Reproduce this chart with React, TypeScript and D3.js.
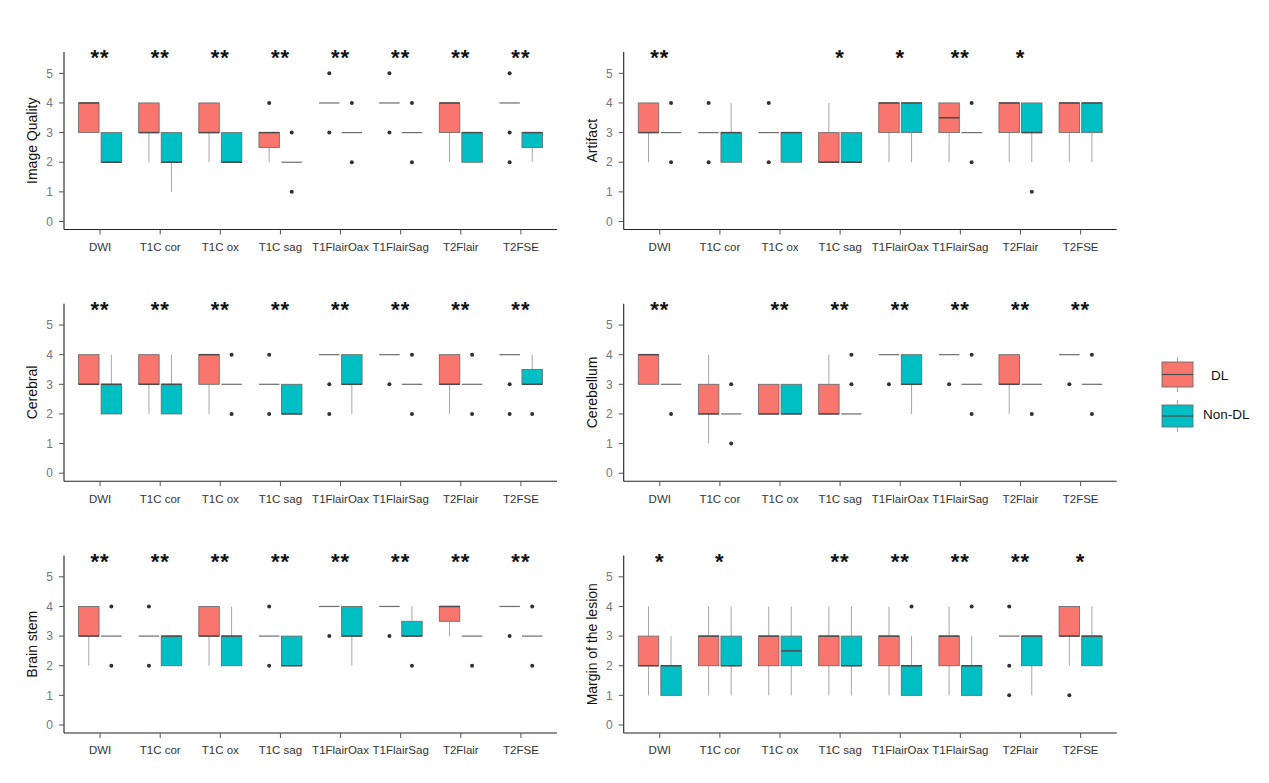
import React from "react";
import * as d3 from "d3";

const categories = ["DWI", "T1C cor", "T1C ox", "T1C sag", "T1FlairOax", "T1FlairSag", "T2Flair", "T2FSE"];
const groups = ["DL", "Non-DL"];
const groupColors = ["#F8766D", "#00BFC4"];
const yTicks = [0, 1, 2, 3, 4, 5];

// box stats: [whiskerLow, q1, median, q3, whiskerHigh]
const iqDL = [[3,3,4,4,4],[2,3,3,4,4],[2,3,3,4,4],[2,2.5,3,3,3],[4,4,4,4,4],[4,4,4,4,4],[2,3,4,4,4],[4,4,4,4,4]];
const iqDLOut = [[],[],[],[4],[5,3],[5,3],[],[5,3,2]];
const iqNon = [[2,2,2,3,3],[1,2,2,3,3],[2,2,2,3,3],[2,2,2,2,2],[3,3,3,3,3],[3,3,3,3,3],[2,2,3,3,3],[2,2.5,3,3,3]];
const iqNonOut = [[],[],[],[3,1],[4,2],[4,2],[],[]];
const iqStars = ["**","**","**","**","**","**","**","**"];

const artDL = [[2,3,3,4,4],[3,3,3,3,3],[3,3,3,3,3],[2,2,2,3,4],[2,3,4,4,4],[2,3,3.5,4,4],[2,3,4,4,4],[2,3,4,4,4]];
const artDLOut = [[],[4,2],[4,2],[],[],[],[],[]];
const artNon = [[3,3,3,3,3],[2,2,3,3,4],[2,2,3,3,3],[2,2,2,3,3],[2,3,4,4,4],[3,3,3,3,3],[2,3,3,4,4],[2,3,4,4,4]];
const artNonOut = [[4,2],[],[],[],[],[4,2],[1],[]];
const artStars = ["**","","","*","*","**","*",""];

const cerDL = [[3,3,3,4,4],[2,3,3,4,4],[2,3,4,4,4],[3,3,3,3,3],[4,4,4,4,4],[4,4,4,4,4],[2,3,3,4,4],[4,4,4,4,4]];
const cerDLOut = [[],[],[],[4,2],[3,2],[3],[],[3,2]];
const cerNon = [[2,2,3,3,4],[2,2,3,3,4],[3,3,3,3,3],[2,2,2,3,3],[2,3,3,4,4],[3,3,3,3,3],[3,3,3,3,3],[3,3,3,3.5,4]];
const cerNonOut = [[],[],[4,2],[],[],[4,2],[4,2],[2]];
const cerStars = ["**","**","**","**","**","**","**","**"];

const cblDL = [[3,3,4,4,4],[1,2,2,3,4],[2,2,2,3,3],[2,2,2,3,4],[4,4,4,4,4],[4,4,4,4,4],[2,3,3,4,4],[4,4,4,4,4]];
const cblDLOut = [[],[],[],[],[3],[3],[],[3]];
const cblNon = [[3,3,3,3,3],[2,2,2,2,2],[2,2,2,3,3],[2,2,2,2,2],[2,3,3,4,4],[3,3,3,3,3],[3,3,3,3,3],[3,3,3,3,3]];
const cblNonOut = [[2],[3,1],[],[4,3],[],[4,2],[2],[4,2]];
const cblStars = ["**","","**","**","**","**","**","**"];

const bsDL = [[2,3,3,4,4],[3,3,3,3,3],[2,3,3,4,4],[3,3,3,3,3],[4,4,4,4,4],[4,4,4,4,4],[3,3.5,4,4,4],[4,4,4,4,4]];
const bsDLOut = [[],[4,2],[],[4,2],[3],[3],[],[3]];
const bsNon = [[3,3,3,3,3],[2,2,3,3,3],[2,2,3,3,4],[2,2,2,3,3],[2,3,3,4,4],[3,3,3,3.5,4],[3,3,3,3,3],[3,3,3,3,3]];
const bsNonOut = [[4,2],[],[],[],[],[2],[2],[4,2]];
const bsStars = ["**","**","**","**","**","**","**","**"];

const mgDL = [[1,2,2,3,4],[1,2,3,3,4],[1,2,3,3,4],[1,2,3,3,4],[1,2,3,3,4],[1,2,3,3,4],[3,3,3,3,3],[2,3,3,4,4]];
const mgDLOut = [[],[],[],[],[],[],[4,2,1],[1]];
const mgNon = [[1,1,2,2,3],[1,2,2,3,4],[1,2,2.5,3,4],[1,2,2,3,4],[1,1,2,2,3],[1,1,2,2,3],[1,2,3,3,3],[2,2,3,3,4]];
const mgNonOut = [[],[],[],[],[4],[4],[],[]];
const mgStars = ["*","*","","**","**","**","**","*"];

const panelTitles = ["Image Quality", "Artifact", "Cerebral", "Cerebellum", "Brain stem", "Margin of the lesion"];
const panels = [
  { dl: iqDL, dlOut: iqDLOut, non: iqNon, nonOut: iqNonOut, stars: iqStars },
  { dl: artDL, dlOut: artDLOut, non: artNon, nonOut: artNonOut, stars: artStars },
  { dl: cerDL, dlOut: cerDLOut, non: cerNon, nonOut: cerNonOut, stars: cerStars },
  { dl: cblDL, dlOut: cblDLOut, non: cblNon, nonOut: cblNonOut, stars: cblStars },
  { dl: bsDL, dlOut: bsDLOut, non: bsNon, nonOut: bsNonOut, stars: bsStars },
  { dl: mgDL, dlOut: mgDLOut, non: mgNon, nonOut: mgNonOut, stars: mgStars },
];

const W = 1269, H = 783;
const colX = [64, 623.7];
const rowBottom = [229.5, 481.2, 733];
const PW = 493, PH = 177.5;
const FONT = "'Liberation Sans', Arial, Helvetica, sans-serif";

const BOX_STROKE = "#6e6e6e";
const MED_STROKE = "#4a4a4a";
const WHISK = "#a8a8a8";

function Panel({ idx }: { idx: number }) {
  const p = panels[idx];
  const x0 = colX[idx % 2];
  const yb = rowBottom[Math.floor(idx / 2)];
  const yt = yb - PH;
  // ggplot-like discrete axis: 0.6 expansion each side with unit step
  const x = d3.scalePoint().domain(categories).range([x0, x0 + PW]).padding(0.6);
  const step = x.step();
  const cx = (c: string) => x(c) as number;
  const y = d3.scaleLinear().domain([-0.27, 5.72]).range([yb, yt]);
  const boxW = 0.34 * step;
  const offs = [-0.1875 * step, 0.1875 * step];

  const drawBox = (stats: number[], outs: number[], gi: number, ci: number) => {
    const [lo, q1, med, q3, hi] = stats;
    const c = cx(categories[ci]) + offs[gi];
    const key = `${gi}-${ci}`;
    return (
      <g key={key}>
        {hi > q3 && <line x1={c} x2={c} y1={y(q3)} y2={y(hi)} stroke={WHISK} strokeWidth={1} />}
        {lo < q1 && <line x1={c} x2={c} y1={y(q1)} y2={y(lo)} stroke={WHISK} strokeWidth={1} />}
        <rect x={c - boxW / 2} y={y(q3)} width={boxW} height={Math.max(0, y(q1) - y(q3))}
          fill={q3 > q1 ? groupColors[gi] : "none"} stroke={BOX_STROKE} strokeWidth={0.9} />
        <line x1={c - boxW / 2} x2={c + boxW / 2} y1={y(med)} y2={y(med)} stroke={MED_STROKE}
          strokeWidth={q3 > q1 ? 1.5 : 1.2} opacity={q3 > q1 ? 1 : 0.8} />
        {outs.map((o, k) => (
          <circle key={k} cx={c} cy={y(o)} r={2} fill="#303030" />
        ))}
      </g>
    );
  };

  return (
    <g>
      {categories.map((_, ci) => drawBox(p.dl[ci], p.dlOut[ci], 0, ci))}
      {categories.map((_, ci) => drawBox(p.non[ci], p.nonOut[ci], 1, ci))}
      {categories.map((c, ci) => (
        <text key={"s" + ci} x={cx(c)} y={y(5.63) + 10.5} textAnchor="middle" fontFamily={FONT}
          fontSize={22} fontWeight="bold" letterSpacing={1} fill="#111">{p.stars[ci]}</text>
      ))}
      <line x1={x0} x2={x0} y1={yt} y2={yb} stroke="#222" strokeWidth={1.1} />
      <line x1={x0} x2={x0 + PW} y1={yb} y2={yb} stroke="#222" strokeWidth={1.1} />
      {yTicks.map((t) => (
        <g key={"yt" + t}>
          <line x1={x0 - 5} x2={x0} y1={y(t)} y2={y(t)} stroke="#555" strokeWidth={1} />
          <text x={x0 - 11} y={y(t) + 4.2} textAnchor="end" fontFamily={FONT} fontSize={12} fill="#777">{t}</text>
        </g>
      ))}
      {categories.map((c) => (
        <g key={"xt" + c}>
          <line x1={cx(c)} x2={cx(c)} y1={yb} y2={yb + 5} stroke="#555" strokeWidth={1} />
          <text x={cx(c)} y={yb + 21.3} textAnchor="middle" fontFamily={FONT} fontSize={11.5} fill="#333">{c}</text>
        </g>
      ))}
      <text transform={`translate(${x0 - 27},${(yt + yb) / 2}) rotate(-90)`} textAnchor="middle"
        fontFamily={FONT} fontSize={14} fill="#111">{panelTitles[idx]}</text>
    </g>
  );
}

function Legend() {
  const kx = 1162, kw = 31;
  const items = [
    { y: 357, h: 35, label: "DL", lx: 1211, ly: 380 },
    { y: 400, h: 32, label: "Non-DL", lx: 1203, ly: 419 },
  ];
  return (
    <g>
      {items.map((it, i) => {
        const c = kx + kw / 2;
        const top = it.y + 5, bot = it.y + it.h - 5;
        return (
          <g key={i}>
            <line x1={c} x2={c} y1={it.y} y2={top} stroke={WHISK} />
            <line x1={c} x2={c} y1={bot} y2={it.y + it.h} stroke={WHISK} />
            <rect x={kx} y={top} width={kw} height={bot - top} fill={groupColors[i]} stroke={BOX_STROKE} strokeWidth={0.9} />
            <line x1={kx} x2={kx + kw} y1={(top + bot) / 2} y2={(top + bot) / 2} stroke={MED_STROKE} strokeWidth={1.2} />
            <text x={it.lx} y={it.ly} fontFamily={FONT} fontSize={13.5} fill="#111">{groups[i]}</text>
          </g>
        );
      })}
    </g>
  );
}

export default function App() {
  return (
    <svg width={W} height={H} style={{ position: "absolute", left: 0, top: 0, background: "#fff" }}>
      <rect width={W} height={H} fill="#fff" />
      {panels.map((_, i) => <Panel key={i} idx={i} />)}
      <Legend />
    </svg>
  );
}
